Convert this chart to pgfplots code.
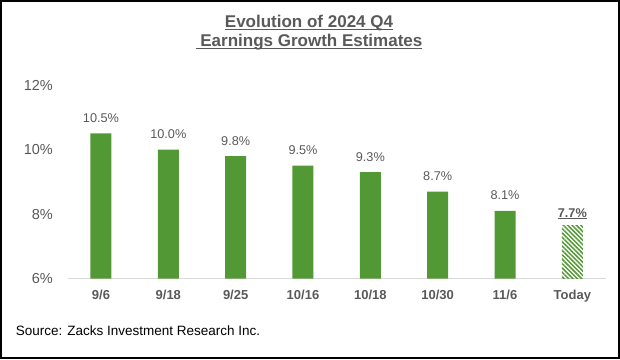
\documentclass[border=0pt]{standalone}
\usepackage{pgfplots}
\pgfplotsset{compat=1.18}
\usepackage{fontspec}
\setmainfont{Liberation Sans}
\usetikzlibrary{patterns.meta}
\definecolor{zgreen}{RGB}{82,152,52}
\definecolor{tgray}{RGB}{89,89,89}
\definecolor{agray}{RGB}{217,217,217}
\newcommand\ul[1]{\setbox0\hbox{#1}\rlap{\rule[-2.3pt]{\wd0}{1.2pt}}\box0}
\begin{document}
\begin{tikzpicture}
\begin{axis}[
 at={(0,0)}, anchor=south west, scale only axis,
 width=538pt, height=193.7pt,
 xmin=-0.49, xmax=7.5, ymin=6, ymax=12,
 axis x line*=bottom, axis y line*=left,
 x axis line style={draw=agray, line width=1pt},
 y axis line style={draw=none},
 major tick length=0pt, tick style={draw=none},
 xtick={0,...,7}, xticklabels={9/6,9/18,9/25,10/16,10/18,10/30,11/6,Today},
 ytick={6,8,10,12},
 yticklabel={\pgfmathprintnumber{\tick}\%},
 /pgf/number format/assume math mode=true,
 yticklabel style={font=\fontsize{14.5}{16}\selectfont, text=tgray, anchor=east, inner sep=0pt, xshift=-15pt},
 xticklabel style={font=\bfseries\fontsize{13}{15}\selectfont, text=tgray, anchor=north, inner sep=0pt, yshift=-10.8pt},
 ybar, bar width=21pt, bar shift=0pt,
]
\addplot[fill=zgreen, draw=none,
  nodes near coords={\pgfmathprintnumber[fixed,fixed zerofill,precision=1]{\pgfplotspointmeta}\%},
  every node near coord/.append style={font=\fontsize{12.7}{14}\selectfont, text=tgray, anchor=base, inner sep=0pt, yshift=11pt}]
  coordinates {(0,10.5)(1,10.0)(2,9.8)(3,9.5)(4,9.3)(5,8.7)(6,8.1)};
\addplot[pattern={Lines[angle=-45,distance=3.1pt,line width=1.5pt]}, pattern color=zgreen, draw=none,
  nodes near coords={\ul{\bfseries\pgfmathprintnumber[fixed,fixed zerofill,precision=1]{\pgfplotspointmeta}\%}},
  every node near coord/.append style={font=\fontsize{12.7}{14}\selectfont, text=tgray, anchor=base, inner sep=0pt, yshift=8pt}]
  coordinates {(7,7.66)};
\end{axis}
\node[anchor=base, font=\bfseries\fontsize{17}{19}\selectfont, text=tgray] at (241pt,251pt) {\ul{Evolution of 2024 Q4}};
\node[anchor=base, font=\bfseries\fontsize{17}{19}\selectfont, text=tgray] at (241pt,232pt) {\ul{\ Earnings Growth Estimates}};
\node[anchor=base west, font=\fontsize{13.5}{16}\selectfont, text=black, inner sep=0pt] at (-52.3pt,-56.3pt) {Source: Zacks Investment Research Inc.};
\draw[line width=2pt, black] (-67pt,-79.3pt) rectangle (551pt,277.7pt);
\end{tikzpicture}
\end{document}
